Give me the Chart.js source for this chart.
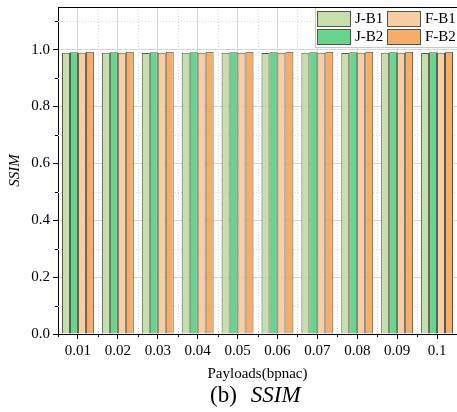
<!DOCTYPE html>
<html>
<head>
<meta charset="utf-8">
<script src="https://cdn.jsdelivr.net/npm/chart.js@4"></script>
<style>
  html, body { margin: 0; padding: 0; background: #fff; }
  #wrap { position: relative; width: 457px; height: 412px; }
  #caption {
    position: absolute; left: 210px; top: 381px;
    font-family: "Liberation Serif", serif; font-size: 23px; color: #000;
    white-space: pre; line-height: 28px;
  }
  #caption i { font-style: italic; margin-left: 14px; }
</style>
</head>
<body>
<div id="wrap">
  <canvas id="ssimChart" width="457" height="412"></canvas>
  <div id="caption">(b)<i>SSIM</i></div>
</div>
<script>
const payloads = ['0.01', '0.02', '0.03', '0.04', '0.05', '0.06', '0.07', '0.08', '0.09', '0.1'];
const jB1 = [0.989, 0.989, 0.988, 0.989, 0.989, 0.988, 0.989, 0.988, 0.989, 0.988];
const jB2 = [0.991, 0.991, 0.991, 0.991, 0.991, 0.991, 0.991, 0.991, 0.991, 0.991];
const fB1 = [0.989, 0.989, 0.989, 0.989, 0.989, 0.989, 0.989, 0.989, 0.989, 0.989];
const fB2 = [0.993, 0.993, 0.993, 0.993, 0.993, 0.993, 0.993, 0.993, 0.993, 0.993];
const yMajor = [0, 0.2, 0.4, 0.6, 0.8, 1.0];
const yMinor = [0.1, 0.3, 0.5, 0.7, 0.9, 1.1];

const serif = '"Liberation Serif", "Times New Roman", serif';
const edge = '#525546';
const gridGray = '#d6d6d6';

// dotted minor grid, minor ticks and the top frame line
const minorGrid = {
    id: 'minorGrid',
    beforeDatasetsDraw(chart) {
        const { ctx, chartArea: a, scales: { x, y } } = chart;
        ctx.save();
        ctx.strokeStyle = gridGray;
        ctx.lineWidth = 1;
        ctx.setLineDash([1, 2]);
        ctx.beginPath();
        yMinor.forEach(v => {
            const py = Math.round(y.getPixelForValue(v)) + 0.5;
            ctx.moveTo(a.left, py);
            ctx.lineTo(a.right, py);
        });
        for (let i = 0; i < payloads.length - 1; i++) {
            const px = Math.round(x.getPixelForValue(i + 0.5)) + 0.5;
            ctx.moveTo(px, a.top);
            ctx.lineTo(px, a.bottom);
        }
        ctx.stroke();
        ctx.restore();
    },
    afterDraw(chart) {
        const { ctx, chartArea: a, scales: { x, y } } = chart;
        ctx.save();
        ctx.strokeStyle = '#000';
        ctx.lineWidth = 1;
        ctx.beginPath();
        yMinor.forEach(v => {
            const py = Math.round(y.getPixelForValue(v)) + 0.5;
            ctx.moveTo(a.left - 3, py);
            ctx.lineTo(a.left, py);
        });
        for (let i = -1; i < payloads.length; i++) {
            const px = Math.round(x.getPixelForValue(i + 0.5)) + 0.5;
            ctx.moveTo(px, a.bottom);
            ctx.lineTo(px, a.bottom + 3);
        }
        ctx.moveTo(a.left, a.top + 0.5);
        ctx.lineTo(a.right + 2, a.top + 0.5);
        ctx.stroke();
        ctx.restore();
    }
};

// two-column legend box in the upper right corner
const boxLegend = {
    id: 'boxLegend',
    afterDatasetsDraw(chart) {
        const { ctx, chartArea: a } = chart;
        const ds = chart.data.datasets;
        const cols = [[0, 1], [2, 3]];
        const boxL = a.right - 142, boxT = a.top, boxW = 145, boxH = 41;
        ctx.save();
        ctx.fillStyle = '#fff';
        ctx.fillRect(boxL, boxT, boxW, boxH);
        ctx.strokeStyle = '#c8c8c8';
        ctx.lineWidth = 1;
        ctx.strokeRect(boxL + 0.5, boxT + 0.5, boxW - 1, boxH - 1);
        ctx.font = '15px ' + serif;
        ctx.textBaseline = 'middle';
        cols.forEach((col, c) => {
            col.forEach((idx, r) => {
                const sx = boxL + 2 + c * 70;
                const sy = boxT + 4 + r * 18;
                ctx.fillStyle = ds[idx].backgroundColor;
                ctx.fillRect(sx, sy, 34, 16);
                ctx.strokeStyle = edge;
                ctx.strokeRect(sx + 0.5, sy + 0.5, 33, 15);
                ctx.fillStyle = '#000';
                ctx.fillText(ds[idx].label, sx + 38, sy + 8.5);
            });
        });
        ctx.restore();
    }
};

function bars(label, values, color) {
    return {
        label: label,
        data: values,
        backgroundColor: color,
        borderColor: edge,
        borderWidth: 1,
        borderSkipped: 'bottom',
        categoryPercentage: 0.8,
        barPercentage: 1.0
    };
}

new Chart(document.getElementById('ssimChart'), {
    type: 'bar',
    data: {
        labels: payloads,
        datasets: [
            bars('J-B1', jB1, '#c6dfad'),
            bars('J-B2', jB2, '#69d48d'),
            bars('F-B1', fB1, '#f9cea5'),
            bars('F-B2', fB2, '#f6ad69')
        ]
    },
    options: {
        responsive: false,
        animation: false,
        layout: { padding: { top: 7, right: 0, bottom: 25, left: 4 } },
        plugins: {
            legend: { display: false },
            tooltip: { enabled: false }
        },
        scales: {
            x: {
                offset: true,
                grid: { offset: false, color: gridGray, tickColor: '#000', tickLength: 5 },
                border: { color: '#000', width: 1 },
                ticks: { color: '#000', font: { family: serif, size: 15 }, padding: 3, maxRotation: 0 },
                title: {
                    display: true, text: 'Payloads(bpnac)', color: '#000',
                    font: { family: serif, size: 15 }, padding: { top: 2, bottom: 4 }
                }
            },
            y: {
                min: 0,
                max: 1.15,
                afterBuildTicks(scale) {
                    scale.ticks = yMajor.map(v => ({ value: v }));
                },
                afterFit(scale) {
                    scale.width = 54;
                    scale.paddingTop = 0;
                    scale.paddingBottom = 0;
                },
                grid: { color: gridGray, tickColor: '#000', tickLength: 5 },
                border: { color: '#000', width: 1 },
                ticks: {
                    color: '#000', font: { family: serif, size: 15 }, padding: 3,
                    callback: v => v.toFixed(1)
                },
                title: {
                    display: true, text: 'SSIM', color: '#000',
                    font: { family: serif, size: 15, style: 'italic' }, padding: { top: 2, bottom: 4 }
                }
            }
        }
    },
    plugins: [minorGrid, boxLegend]
});
</script>
</body>
</html>
